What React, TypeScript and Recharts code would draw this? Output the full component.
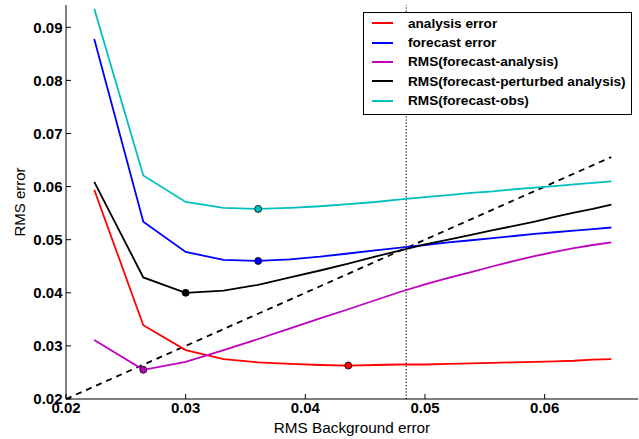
import { ComposedChart, Line, ReferenceLine, XAxis, YAxis } from "recharts";

const BACKGROUND_ERR = [
  0.02236, 0.02646, 0.03, 0.03317, 0.03606, 0.03873, 0.04123, 0.04359, 0.04583,
  0.04796, 0.05, 0.05196, 0.05385, 0.05568, 0.05745, 0.05916, 0.06083, 0.06245,
  0.06403, 0.06557,
];
const ANALYSIS_ERR = [
  0.0594, 0.0339, 0.0292, 0.0275, 0.0269, 0.0266, 0.0264, 0.0263, 0.0264, 0.0265,
  0.0265, 0.0266, 0.0267, 0.0268, 0.0269, 0.027, 0.0271, 0.0272, 0.0274, 0.0275,
];
const FORECAST_ERR = [
  0.0878, 0.0534, 0.0477, 0.0462, 0.046, 0.0463, 0.0468, 0.0474, 0.048, 0.0485,
  0.049, 0.0495, 0.0499, 0.0503, 0.0507, 0.0511, 0.0514, 0.0517, 0.052, 0.0523,
];
const RMS_F_A = [
  0.0311, 0.0255, 0.027, 0.0292, 0.0313, 0.0333, 0.0352, 0.0369, 0.0386, 0.0402,
  0.0416, 0.0428, 0.0439, 0.045, 0.046, 0.0469, 0.0477, 0.0484, 0.049, 0.0495,
];
const RMS_F_PA = [
  0.0609, 0.0429, 0.04, 0.0404, 0.0415, 0.0429, 0.0442, 0.0455, 0.0468, 0.048,
  0.0491, 0.05, 0.0509, 0.0518, 0.0526, 0.0534, 0.0543, 0.0551, 0.0558, 0.0566,
];
const RMS_F_OBS = [
  0.0935, 0.0621, 0.0571, 0.056, 0.0558, 0.056, 0.0563, 0.0567, 0.0571, 0.0576,
  0.058, 0.0584, 0.0588, 0.0591, 0.0595, 0.0598, 0.0601, 0.0604, 0.0607, 0.061,
];

const X_TICKS = [0.02, 0.03, 0.04, 0.05, 0.06];
const Y_TICKS = [0.02, 0.03, 0.04, 0.05, 0.06, 0.07, 0.08, 0.09];
const X_DOMAIN = [0.02, 0.0678];
const Y_DOMAIN = [0.02, 0.0942];
const IDENTITY_LINE = [0.02, 0.06557];
const TRUE_BG_ERR = 0.04843;

const SERIES = [
  { key: "analysis", name: "analysis error", color: "#ff0000", values: ANALYSIS_ERR, marker: 7 },
  { key: "forecast", name: "forecast error", color: "#0000ff", values: FORECAST_ERR, marker: 4 },
  { key: "fa", name: "RMS(forecast-analysis)", color: "#bf00bf", values: RMS_F_A, marker: 1 },
  { key: "fpa", name: "RMS(forecast-perturbed analysis)", color: "#000000", values: RMS_F_PA, marker: 2 },
  { key: "fo", name: "RMS(forecast-obs)", color: "#00bfbf", values: RMS_F_OBS, marker: 4 },
];

const rows = BACKGROUND_ERR.map((x, i) => {
  const row: Record<string, number> = { x };
  SERIES.forEach((s) => {
    row[s.key] = s.values[i];
  });
  return row;
});

const FONT = "'Liberation Sans', Arial, sans-serif";

// matplotlib-style legend box, laid over the plot
function LegendBox() {
  return (
    <div
      style={{
        position: "absolute",
        left: 363,
        top: 12,
        width: 269,
        height: 103,
        border: "1px solid #000",
        background: "#fff",
        padding: "0.5px 0 0 8px",
        fontFamily: FONT,
        fontWeight: "bold",
        fontSize: 13.6,
        boxSizing: "border-box",
      }}
    >
      {SERIES.map((s) => (
        <div key={s.key} style={{ display: "flex", alignItems: "center", height: 19.4 }}>
          <span
            style={{
              display: "inline-block",
              flexShrink: 0,
              width: 21,
              height: 2,
              background: s.color,
              marginRight: 15,
            }}
          />
          <span style={{ color: "#000", whiteSpace: "nowrap" }}>{s.name}</span>
        </div>
      ))}
    </div>
  );
}

export default function App() {
  return (
    <div style={{ position: "absolute", left: 0, top: 0, width: 639, height: 439, background: "#fff" }}>
      <ComposedChart
        width={639}
        height={439}
        data={rows}
        margin={{ top: 5, right: 1, left: 0, bottom: 0 }}
      >
        <XAxis
          dataKey="x"
          type="number"
          domain={X_DOMAIN}
          ticks={X_TICKS}
          allowDataOverflow
          height={40}
          tickSize={-5}
          tickMargin={8}
          tickFormatter={(v) => v.toFixed(2)}
          tick={{ fill: "#000", fontSize: 15, fontWeight: "bold", fontFamily: FONT }}
          axisLine={{ stroke: "#000" }}
          tickLine={{ stroke: "#000" }}
          label={{
            value: "RMS Background error",
            position: "insideBottom",
            offset: 0,
            fill: "#000",
            fontSize: 15.3,
            fontFamily: FONT,
            dy: -6,
          }}
        />
        <XAxis
          xAxisId="top"
          dataKey="x"
          type="number"
          orientation="top"
          domain={X_DOMAIN}
          ticks={X_TICKS}
          allowDataOverflow
          height={0}
          tickSize={-5}
          tickFormatter={() => ""}
          axisLine={{ stroke: "#000" }}
          tickLine={{ stroke: "#000" }}
        />
        <YAxis
          type="number"
          domain={Y_DOMAIN}
          ticks={Y_TICKS}
          allowDataOverflow
          width={66}
          tickSize={-5}
          tickMargin={8.5}
          tickFormatter={(v) => v.toFixed(2)}
          tick={{ fill: "#000", fontSize: 15, fontWeight: "bold", fontFamily: FONT }}
          axisLine={{ stroke: "#000" }}
          tickLine={{ stroke: "#000" }}
          label={{
            value: "RMS error",
            angle: -90,
            position: "insideLeft",
            offset: 0,
            dx: 20,
            fill: "#000",
            fontSize: 15,
            fontFamily: FONT,
            style: { textAnchor: "middle" },
          }}
        />
        <YAxis
          yAxisId="right"
          type="number"
          orientation="right"
          domain={Y_DOMAIN}
          ticks={Y_TICKS}
          allowDataOverflow
          width={0}
          tickSize={-5}
          tickFormatter={() => ""}
          axisLine={{ stroke: "#000" }}
          tickLine={{ stroke: "#000" }}
        />
        <ReferenceLine
          x={TRUE_BG_ERR}
          stroke="#000"
          strokeWidth={1.2}
          strokeDasharray="1.2 2"
        />
        <ReferenceLine
          segment={[
            { x: IDENTITY_LINE[0], y: IDENTITY_LINE[0] },
            { x: IDENTITY_LINE[1], y: IDENTITY_LINE[1] },
          ]}
          stroke="#000"
          strokeWidth={1.8}
          strokeDasharray="6 5"
        />
        {SERIES.map((s) => (
          <Line
            key={s.key}
            dataKey={s.key}
            name={s.name}
            type="linear"
            stroke={s.color}
            strokeWidth={1.8}
            isAnimationActive={false}
            activeDot={false}
            dot={(p: any) =>
              p.index === s.marker ? (
                <circle
                  key={`${s.key}-dot`}
                  cx={p.cx}
                  cy={p.cy}
                  r={3.5}
                  fill={s.color}
                  stroke="#000"
                  strokeWidth={0.8}
                />
              ) : (
                <g key={`${s.key}-${p.index}`} />
              )
            }
          />
        ))}
      </ComposedChart>
      <LegendBox />
    </div>
  );
}
